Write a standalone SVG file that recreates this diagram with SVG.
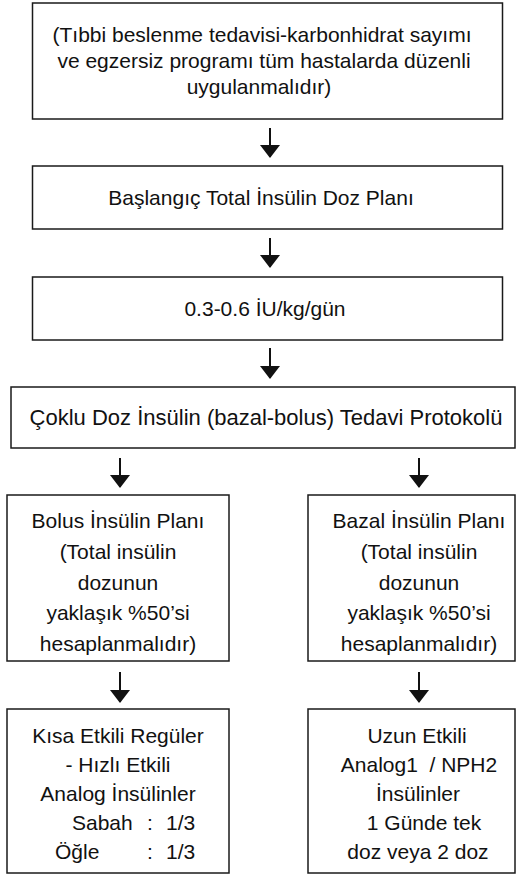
<svg xmlns="http://www.w3.org/2000/svg" width="520" height="875" viewBox="0 0 520 875">
  <style>
    .box { fill: #ffffff; stroke: #1a1a1a; stroke-width: 1.5; }
    .lbl { font-family: "Liberation Sans", Arial, Helvetica, sans-serif; font-size: 21px; fill: #111111; text-anchor: middle; }
    .lbs { font-family: "Liberation Sans", Arial, Helvetica, sans-serif; font-size: 21px; fill: #111111; }
    .shaft { stroke: #111111; stroke-width: 2; fill: none; }
  </style>
  <defs>
    <!-- downward arrowhead: drawn along +x, rotated to the line direction -->
    <marker id="head" viewBox="0 0 13 20" refX="12" refY="10" markerWidth="13" markerHeight="20" markerUnits="userSpaceOnUse" orient="auto">
      <path d="M0,0 L13,10 L0,20 Z" fill="#111111"/>
    </marker>
  </defs>
  <rect width="520" height="875" fill="#ffffff"/>

  <g id="node-beslenme">
    <rect class="box" x="32.5" y="3" width="470" height="116"/>
    <text class="lbl" x="262" y="42">(Tıbbi beslenme tedavisi-karbonhidrat sayımı</text>
    <text class="lbl" x="264" y="68">ve egzersiz programı tüm hastalarda düzenli</text>
    <text class="lbl" x="259" y="94">uygulanmalıdır)</text>
  </g>

  <g id="node-baslangic">
    <rect class="box" x="32.5" y="166" width="470" height="63"/>
    <text class="lbl" x="261" y="205">Başlangıç Total İnsülin Doz Planı</text>
  </g>

  <g id="node-doz">
    <rect class="box" x="32.5" y="277" width="470" height="63"/>
    <text class="lbl" x="265" y="316">0.3-0.6 İU/kg/gün</text>
  </g>

  <g id="node-coklu">
    <rect class="box" x="11" y="387" width="504" height="61"/>
    <text class="lbl" x="266" y="425" style="font-size:22px">Çoklu Doz İnsülin (bazal-bolus) Tedavi Protokolü</text>
  </g>

  <g id="node-bolus">
    <rect class="box" x="7" y="495" width="222" height="166"/>
    <text class="lbl" x="118" y="528">Bolus İnsülin Planı</text>
    <text class="lbl" x="118" y="559">(Total insülin</text>
    <text class="lbl" x="118" y="590">dozunun</text>
    <text class="lbl" x="118" y="620">yaklaşık %50’si</text>
    <text class="lbl" x="118" y="651">hesaplanmalıdır)</text>
  </g>

  <g id="node-bazal">
    <rect class="box" x="308" y="495" width="207" height="166"/>
    <text class="lbl" x="419" y="528">Bazal İnsülin Planı</text>
    <text class="lbl" x="419" y="559">(Total insülin</text>
    <text class="lbl" x="419" y="590">dozunun</text>
    <text class="lbl" x="419" y="620">yaklaşık %50’si</text>
    <text class="lbl" x="419" y="651">hesaplanmalıdır)</text>
  </g>

  <g id="node-kisa">
    <rect class="box" x="7" y="709" width="222" height="164"/>
    <text class="lbl" x="118" y="743">Kısa Etkili Regüler</text>
    <text class="lbl" x="118" y="772">- Hızlı Etkili</text>
    <text class="lbl" x="118" y="801">Analog İnsülinler</text>
    <text class="lbs" y="830"><tspan x="72">Sabah</tspan><tspan x="147">:</tspan><tspan x="166">1/3</tspan></text>
    <text class="lbs" y="859"><tspan x="55">Öğle</tspan><tspan x="147">:</tspan><tspan x="166">1/3</tspan></text>
  </g>

  <g id="node-uzun">
    <rect class="box" x="308" y="709" width="207" height="164"/>
    <text class="lbl" x="417" y="743">Uzun Etkili</text>
    <text class="lbl" x="419" y="772" xml:space="preserve">Analog1  / NPH2</text>
    <text class="lbl" x="418" y="801">İnsülinler</text>
    <text class="lbl" x="424" y="830">1 Günde tek</text>
    <text class="lbl" x="418" y="859">doz veya 2 doz</text>
  </g>

  <g id="connectors">
    <line class="shaft" x1="270" y1="128" x2="270" y2="157" marker-end="url(#head)"/>
    <line class="shaft" x1="270" y1="238" x2="270" y2="267" marker-end="url(#head)"/>
    <line class="shaft" x1="270" y1="348" x2="270" y2="378" marker-end="url(#head)"/>
    <line class="shaft" x1="120" y1="458" x2="120" y2="487" marker-end="url(#head)"/>
    <line class="shaft" x1="419" y1="458" x2="419" y2="487" marker-end="url(#head)"/>
    <line class="shaft" x1="120" y1="672" x2="120" y2="702" marker-end="url(#head)"/>
    <line class="shaft" x1="419" y1="672" x2="419" y2="702" marker-end="url(#head)"/>
  </g>
</svg>
